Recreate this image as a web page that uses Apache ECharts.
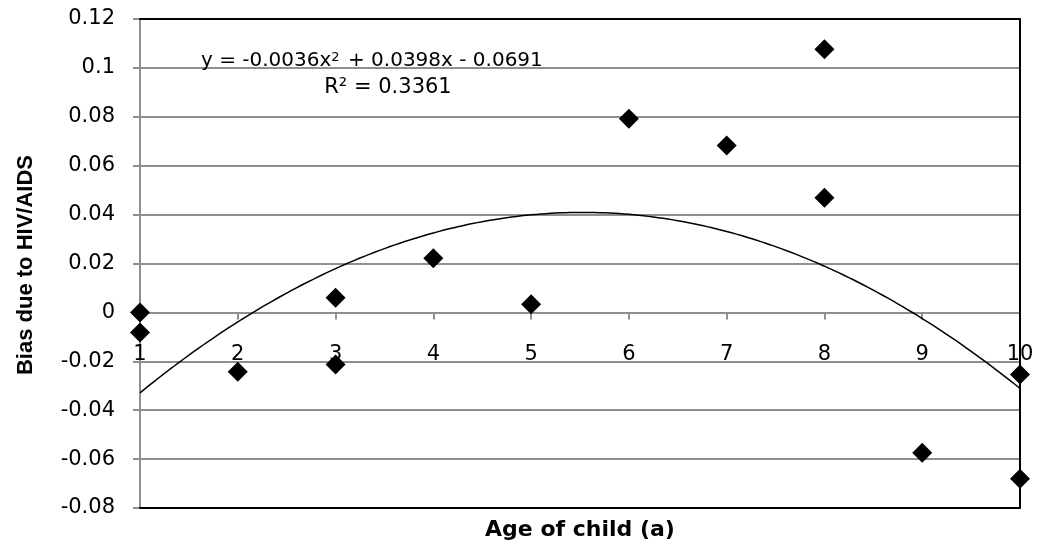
<!DOCTYPE html>
<html>
<head>
<meta charset="utf-8">
<script src="https://cdn.jsdelivr.net/npm/echarts@6/dist/echarts.min.js"></script>
<style>
  html, body { margin: 0; padding: 0; background: #fff; }
  #chart { width: 1041px; height: 550px; }
</style>
</head>
<body>
<div id="chart"></div>
<script>
// Observed bias by child age
const ages = [1, 1, 2, 3, 3, 4, 5, 6, 7, 8, 8, 9, 10, 10];
const bias = [0, -0.0082, -0.0243, 0.006, -0.0213, 0.0221, 0.0033, 0.0792, 0.0683, 0.1076, 0.0469, -0.0574, -0.068, -0.0254];

// Polynomial trendline coefficients (a*x^2 + b*x + c) and fit quality
const trendCoef = [-0.0036, 0.0398, -0.0691];
const rSquared = '0.3361';

// Axis tick values
const xTicks = [1, 2, 3, 4, 5, 6, 7, 8, 9, 10];
const yTicks = [-0.08, -0.06, -0.04, -0.02, 0, 0.02, 0.04, 0.06, 0.08, 0.1, 0.12];

const points = ages.map((a, i) => [a, bias[i]]);

// Trend curve sampled along the age range
const trend = [];
for (let x = xTicks[0]; x <= xTicks[xTicks.length - 1] + 1e-9; x += 0.05) {
  trend.push([x, trendCoef[0] * x * x + trendCoef[1] * x + trendCoef[2]]);
}

const fmtNum = v => String(parseFloat(v.toFixed(4)));
const labelFont = 'DejaVu Sans';
const gridGray = '#8f8f8f';
const xMin = xTicks[0], xMax = xTicks[xTicks.length - 1];
const yMin = yTicks[0], yMax = yTicks[yTicks.length - 1];

// Plot geometry; the age axis is shifted up to sit on the zero line
const plot = { left: 140, right: 21, top: 19, bottom: 42 };
const plotHeight = 550 - plot.top - plot.bottom;
const zeroShift = -plotHeight * (0 - yMin) / (yMax - yMin);

// Frame-only axes (no ticks, no labels) used for the black plot border
const frameX = (position) => ({
  type: 'value', position, min: xMin, max: xMax, interval: 1, z: 5,
  axisLine: { show: true, onZero: false, lineStyle: { color: '#000', width: 2 } },
  axisTick: { show: false }, axisLabel: { show: false }, splitLine: { show: false }
});

const chart = echarts.init(document.getElementById('chart'));
chart.setOption({
  animation: false,
  backgroundColor: '#fff',
  grid: Object.assign({ show: false }, plot),
  xAxis: [
    {
      // age axis drawn across the zero line
      type: 'value', position: 'bottom', offset: zeroShift,
      min: xMin, max: xMax, interval: 1, z: 1,
      axisLine: { show: true, onZero: false, lineStyle: { color: gridGray, width: 2 } },
      axisTick: { show: true, length: 7, lineStyle: { color: gridGray, width: 2 } },
      axisLabel: {
        show: true, margin: 32, showMinLabel: true, showMaxLabel: true, hideOverlap: false,
        color: '#000', fontFamily: labelFont, fontSize: 21, formatter: v => String(v)
      },
      splitLine: { show: false }
    },
    frameX('bottom'),
    frameX('top')
  ],
  yAxis: [
    {
      type: 'value', position: 'left',
      min: yMin, max: yMax, interval: 0.02,
      axisLine: { show: true, onZero: false, lineStyle: { color: gridGray, width: 2 } },
      axisTick: { show: true, length: 7, lineStyle: { color: gridGray, width: 2 } },
      axisLabel: { color: '#000', fontFamily: labelFont, fontSize: 21, margin: 25, formatter: v => fmtNum(v) },
      splitLine: { show: true, lineStyle: { color: gridGray, width: 2 } }
    },
    {
      type: 'value', position: 'right', z: 5,
      min: yMin, max: yMax, interval: 0.02,
      axisLine: { show: true, onZero: false, lineStyle: { color: '#000', width: 2 } },
      axisTick: { show: false }, axisLabel: { show: false }, splitLine: { show: false }
    }
  ],
  series: [
    {
      type: 'line',
      data: trend,
      showSymbol: false,
      symbol: 'none',
      lineStyle: { color: '#000', width: 1.5 },
      z: 3
    },
    {
      type: 'scatter',
      data: points,
      symbol: 'diamond',
      symbolSize: 20,
      itemStyle: { color: '#000', opacity: 1 },
      clip: false,
      z: 4
    }
  ],
  graphic: [
    {
      type: 'text',
      left: 201, top: 51,
      style: {
        text: '{a|y = -0.0036x}{s|2}{a| + 0.0398x - 0.0691}',
        rich: {
          a: { fontFamily: labelFont, fontSize: 20, fill: '#000', verticalAlign: 'bottom' },
          s: { fontFamily: labelFont, fontSize: 13, fill: '#000', verticalAlign: 'top', padding: [0, 2, 0, 0] }
        }
      },
      z: 10
    },
    {
      type: 'text',
      x: 388, y: 88,
      style: {
        text: 'R² = ' + rSquared,
        fontFamily: labelFont, fontSize: 21, fill: '#000',
        textAlign: 'center', textVerticalAlign: 'middle'
      },
      z: 10
    },
    {
      type: 'text',
      x: 580, y: 530,
      style: {
        text: 'Age of child (a)',
        fontFamily: labelFont, fontWeight: 'bold', fontSize: 22, fill: '#000',
        textAlign: 'center', textVerticalAlign: 'middle'
      },
      z: 10
    },
    {
      type: 'text',
      x: 26, y: 265,
      rotation: Math.PI / 2,
      style: {
        text: 'Bias due to HIV/AIDS',
        fontFamily: 'Liberation Sans', fontWeight: 'bold', fontSize: 22, fill: '#000',
        textAlign: 'center', textVerticalAlign: 'middle'
      },
      z: 10
    }
  ]
});
</script>
</body>
</html>
